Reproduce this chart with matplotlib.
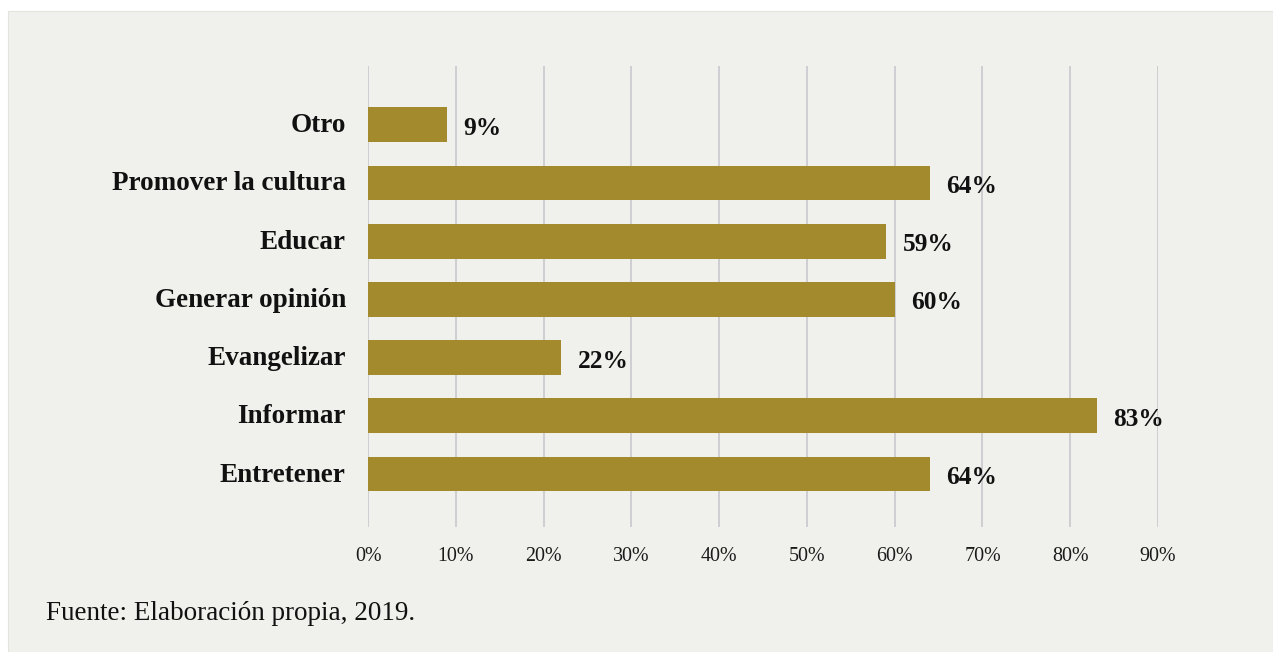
import matplotlib.pyplot as plt
import matplotlib.transforms as mtransforms
from matplotlib.patches import Rectangle

# survey answers, bottom to top as drawn
categories = ["Entretener", "Informar", "Evangelizar", "Generar opinión",
              "Educar", "Promover la cultura", "Otro"]
values = [64, 83, 22, 60, 59, 64, 9]
ticks = [0, 10, 20, 30, 40, 50, 60, 70, 80, 90]
tick_labels = [f"{t}%" for t in ticks]
source = "Fuente: Elaboración propia, 2019."

bar_color = "#A38A2C"
panel_color = "#F0F0EC"
grid_color = "#C9C9CF"

plt.rcParams["font.family"] = ["Liberation Serif", "DejaVu Serif"]

W, H = 1273, 652
fig = plt.figure(figsize=(W / 100, H / 100), dpi=100)
fig.patch.set_facecolor("white")

# light panel behind the whole chart
fig.patches.append(Rectangle((8 / W, 0), 1 - 8 / W, 1 - 11 / H,
                             transform=fig.transFigure, facecolor=panel_color,
                             edgecolor="#E4E4DE", linewidth=0.8, zorder=-1))

ax = fig.add_axes([368 / W, 1 - 527 / H, (1158 - 368) / W, (527 - 66) / H])
ax.set_facecolor("none")

y = list(range(len(categories)))
ax.barh(y, values, height=0.6, color=bar_color, zorder=2)

for yi, v in zip(y, values):
    ax.annotate(f"{v}%", (v, yi), xytext=(12, -2.5), textcoords="offset points",
                ha="left", va="center", fontsize=18.3, fontweight="bold",
                color="#111111")

ax.set_xlim(0, 90)
ax.set_ylim(-0.91, 6 + 1.01)
ax.set_xticks(ticks)
ax.set_xticklabels(tick_labels, fontsize=14.4, color="#1a1a1a")
ax.set_yticks(y)
ax.set_yticklabels(categories, fontsize=19.5, fontweight="bold", color="#111111")
ax.tick_params(axis="x", length=0, pad=14.5)
ax.tick_params(axis="y", length=0, pad=16)

# nudge category names up a little
lift = mtransforms.ScaledTranslation(0, 2 / 100, fig.dpi_scale_trans)
for lab in ax.get_yticklabels():
    lab.set_transform(lab.get_transform() + lift)

ax.grid(axis="x", color=grid_color, linewidth=1.2, zorder=0)
for s in ax.spines.values():
    s.set_visible(False)

fig.text(46 / W, 1 - 620 / H, source, fontsize=19.5, color="#111111",
         ha="left", va="baseline")

fig.savefig("out.png", dpi=100)
